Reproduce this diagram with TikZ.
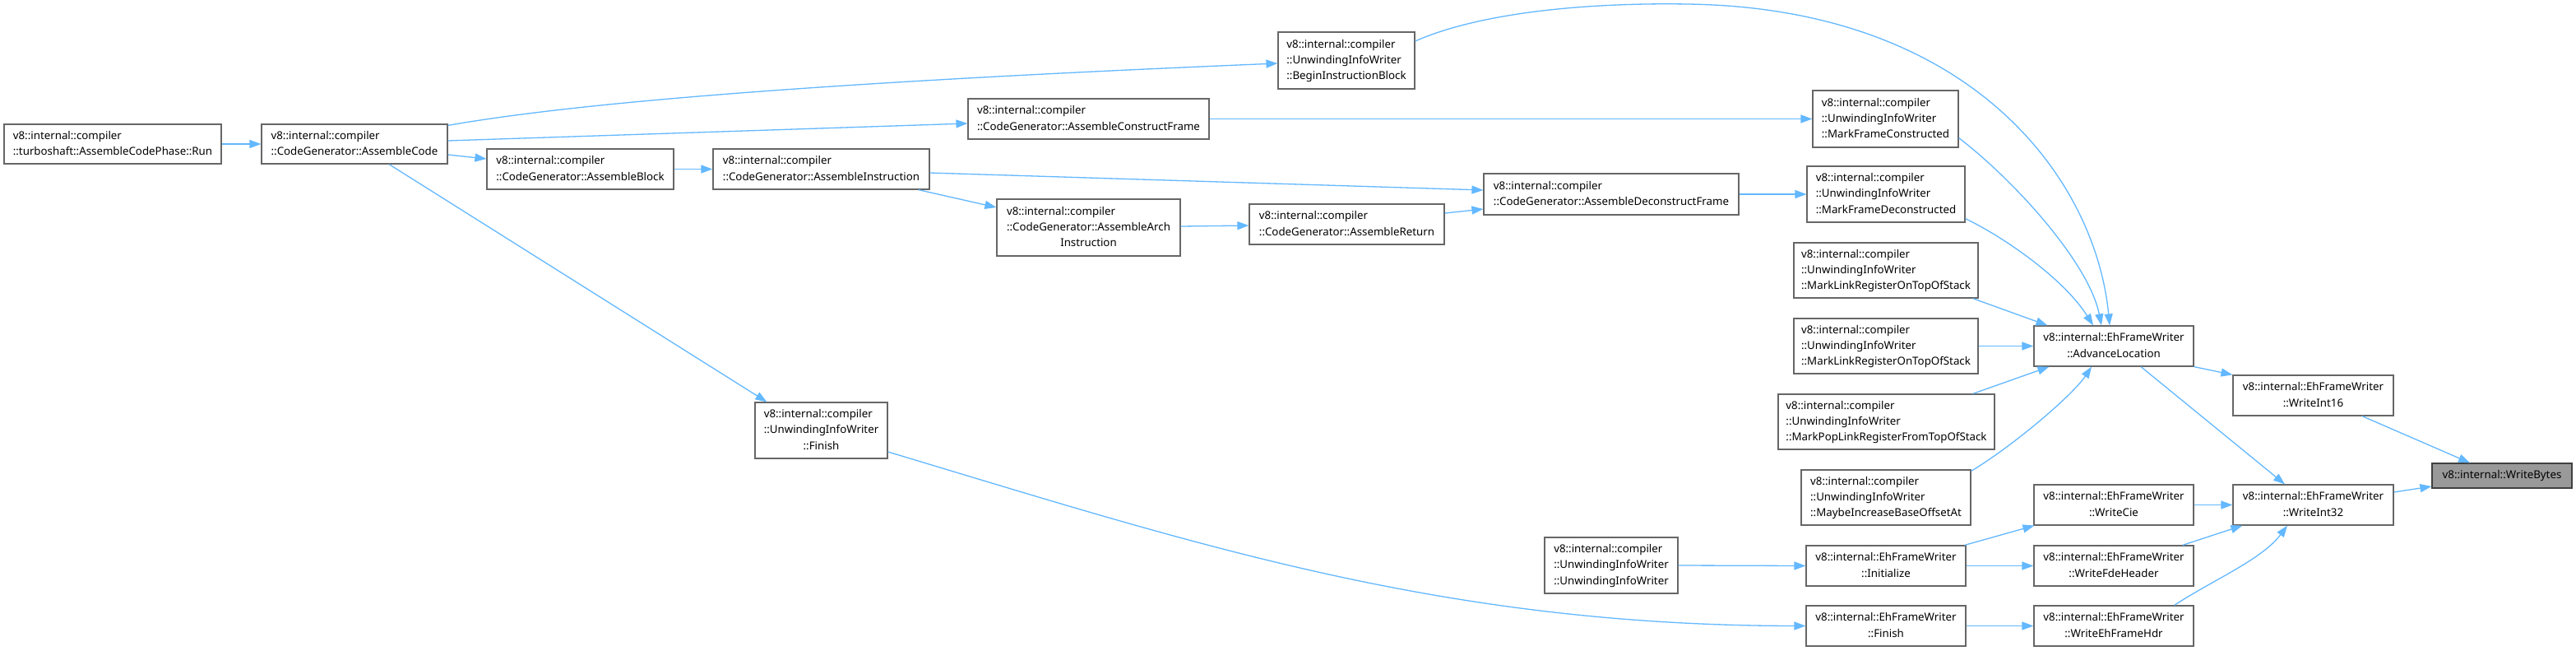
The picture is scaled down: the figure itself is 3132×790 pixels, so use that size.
\documentclass[tikz,border=0pt]{standalone}
\usepackage{fontspec}
\setmainfont{Noto Sans}
\usetikzlibrary{arrows.meta,calc}
\definecolor{edgec}{HTML}{63B8FF}
\definecolor{boxc}{HTML}{666666}
\definecolor{wbfill}{HTML}{999999}
\definecolor{wbdraw}{HTML}{404040}
\newcommand{\twol}[2]{\begin{tabular}{@{}l@{}}#1\\\multicolumn{1}{@{}c@{}}{#2}\end{tabular}}
\newcommand{\bx}[6]{\node[box,minimum width=#4pt,minimum height=#5pt] (#1) at (#2,#3) {#6};}
\begin{document}
\begin{tikzpicture}[x=1pt,y=-1pt,
  box/.style={draw=boxc,line width=1.2pt,fill=white,inner sep=0pt,font=\fontsize{13.3}{19.3}\selectfont},
  edge/.style={draw=edgec,line width=1.3pt,-{Triangle[length=14pt,width=10pt]}}]
\useasboundingbox[fill=white] (0,0) rectangle (3132,790);
% nodes
\bx{Run}{137}{175}{264}{48}{\twol{v8::internal::compiler}{::turboshaft::AssembleCodePhase::Run}}
\bx{AC}{431}{175}{226}{48}{\twol{v8::internal::compiler}{::CodeGenerator::AssembleCode}}
\bx{AB}{705.5}{205.5}{227}{49}{\twol{v8::internal::compiler}{::CodeGenerator::AssembleBlock}}
\bx{AI}{998.5}{205.5}{263}{49}{\twol{v8::internal::compiler}{::CodeGenerator::AssembleInstruction}}
\bx{AAI}{1323.5}{276.5}{223}{69}{\twol{v8::internal::compiler\\::CodeGenerator::AssembleArch}{Instruction}}
\bx{AR}{1637.5}{272.5}{237}{49}{\twol{v8::internal::compiler}{::CodeGenerator::AssembleReturn}}
\bx{ACF}{1323.5}{144.5}{293}{49}{\twol{v8::internal::compiler}{::CodeGenerator::AssembleConstructFrame}}
\bx{ADF}{1959}{236}{310}{50}{\twol{v8::internal::compiler}{::CodeGenerator::AssembleDeconstructFrame}}
\bx{BIB}{1637}{73.5}{166}{69}{\twol{v8::internal::compiler\\::UnwindingInfoWriter}{::BeginInstructionBlock}}
\bx{MFC}{2292.5}{144.5}{177}{69}{\twol{v8::internal::compiler\\::UnwindingInfoWriter}{::MarkFrameConstructed}}
\bx{MFD}{2293}{236}{192}{68}{\twol{v8::internal::compiler\\::UnwindingInfoWriter}{::MarkFrameDeconstructed}}
\bx{MLRa}{2293}{328.5}{224}{67}{\twol{v8::internal::compiler\\::UnwindingInfoWriter}{::MarkLinkRegisterOnTopOfStack}}
\bx{MLRb}{2293}{420.5}{224}{67}{\twol{v8::internal::compiler\\::UnwindingInfoWriter}{::MarkLinkRegisterOnTopOfStack}}
\bx{MPop}{2293.5}{512.5}{263}{67}{\twol{v8::internal::compiler\\::UnwindingInfoWriter}{::MarkPopLinkRegisterFromTopOfStack}}
\bx{MInc}{2293}{604.5}{206}{67}{\twol{v8::internal::compiler\\::UnwindingInfoWriter}{::MaybeIncreaseBaseOffsetAt}}
\bx{UFin}{998.5}{523}{161}{68}{\twol{v8::internal::compiler\\::UnwindingInfoWriter}{::Finish}}
\bx{UCtor}{1959}{687}{162}{68}{\twol{v8::internal::compiler\\::UnwindingInfoWriter}{::UnwindingInfoWriter}}
\bx{AL}{2570}{420.5}{194}{49}{\twol{v8::internal::EhFrameWriter}{::AdvanceLocation}}
\bx{WSixteen}{2812.5}{480.5}{195}{49}{\twol{v8::internal::EhFrameWriter}{::WriteInt16}}
\node[box,fill=wbfill,draw=wbdraw,minimum width=170pt,minimum height=30pt] (WB) at (3042,578) {v8::internal::WriteBytes};
\bx{WCie}{2570}{613.5}{194}{49}{\twol{v8::internal::EhFrameWriter}{::WriteCie}}
\bx{WThirtyTwo}{2812.5}{613.5}{195}{49}{\twol{v8::internal::EhFrameWriter}{::WriteInt32}}
\bx{Init}{2293}{687.5}{194}{49}{\twol{v8::internal::EhFrameWriter}{::Initialize}}
\bx{WFde}{2570}{687.5}{194}{49}{\twol{v8::internal::EhFrameWriter}{::WriteFdeHeader}}
\bx{EFin}{2293}{760.5}{194}{49}{\twol{v8::internal::EhFrameWriter}{::Finish}}
\bx{WEh}{2570}{760.5}{194}{49}{\twol{v8::internal::EhFrameWriter}{::WriteEhFrameHdr}}
% edges
\draw[edge] (Run.east) -- (AC.west);
\draw[edge] ($(AC.north east)+(0,2)$) .. controls (700,125) and (1000,100) .. ($(BIB.west)+(0,3.5)$);
\draw[edge] ($(AC.east)+(0,-4)$) -- ($(ACF.west)+(0,5.5)$);
\draw[edge] ($(AC.east)+(0,13)$) -- ($(AB.west)+(0,-12.5)$);
\draw[edge] ($(AC.south)+(42,0)$) -- ($(UFin.north west)+(15,0)$);
\draw[edge] (AB.east) -- (AI.west);
\draw[edge] ($(AI.east)+(0,4.5)$) -- ($(ADF.west)+(0,-5)$);
\draw[edge] ($(AI.south east)+(-14,0)$) -- ($(AAI.west)+(0,-24.5)$);
\draw[edge] ($(AAI.east)+(0,-1.5)$) -- ($(AR.west)+(0,1.5)$);
\draw[edge] ($(AR.east)+(0,-13.5)$) -- ($(ADF.west)+(0,18)$);
\draw[edge] (ACF.east) -- (MFC.west);
\draw[edge] (ADF.east) -- (MFD.west);
\draw[edge] ($(BIB.east)+(0,-23.5)$) .. controls (1800,15) and (1930,3) .. (2052,5)
  .. controls (2400,10) and (2548,220) .. ($(AL.north)+(-5,0)$);
\draw[edge] ($(MFC.south east)+(0,-12)$) .. controls (2450,220) and (2540,320) .. ($(AL.north)+(-15,0)$);
\draw[edge] ($(MFD.south east)+(0,-5)$) .. controls (2440,290) and (2510,340) .. ($(AL.north)+(-25,0)$);
\draw[edge] ($(MLRa.south east)+(-7,0)$) -- ($(AL.north west)+(17,0)$);
\draw[edge] (MLRb.east) -- (AL.west);
\draw[edge] ($(MPop.north east)+(-27,0)$) -- ($(AL.south west)+(19,0)$);
\draw[edge] ($(MInc.north east)+(0,2)$) .. controls (2450,540) and (2520,480) .. ($(AL.south)+(-27,0)$);
\draw[edge] (AL.south east) -- (WSixteen.north west);
\draw[edge] ($(AL.south)+(33,0)$) -- ($(WThirtyTwo.north)+(-34.5,0)$);
\draw[edge] ($(WSixteen.south)+(59.5,0)$) -- ($(WB.north)+(-39,0)$);
\draw[edge] ($(WThirtyTwo.east)+(0,-15.5)$) -- ($(WB.west)+(0,13)$);
\draw[edge] (WCie.east) -- (WThirtyTwo.west);
\draw[edge] ($(WFde.north east)+(-14,0)$) -- ($(WThirtyTwo.south west)+(12,0)$);
\draw[edge] ($(WEh.north east)+(-24,0)$) .. controls (2690,705) and (2750,680) .. ($(WThirtyTwo.south)+(-31.5,0)$);
\draw[edge] ($(Init.north east)+(-2,0)$) -- ($(WCie.south west)+(1,0)$);
\draw[edge] (Init.east) -- (WFde.west);
\draw[edge] (EFin.east) -- (WEh.west);
\draw[edge] (UCtor.east) -- (Init.west);
\draw[edge] ($(UFin.east)+(0,26)$) .. controls (1450,660) and (1750,760) .. (EFin.west);
\end{tikzpicture}
\end{document}
